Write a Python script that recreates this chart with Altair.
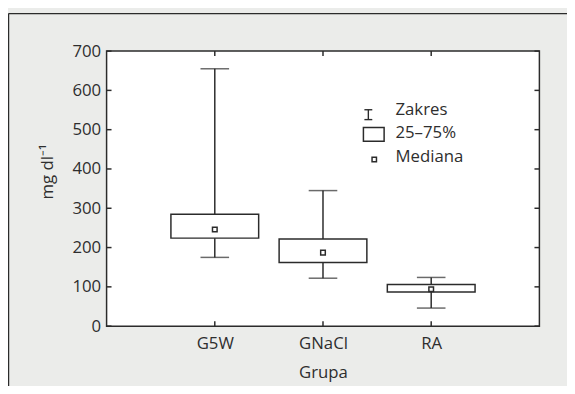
import altair as alt
import pandas as pd

# ---- data ----
groups = ["G5W", "GNaCl", "RA"]
v_min = [175, 122, 46]
v_max = [655, 345, 124]
v_q1 = [224, 162, 87]
v_q3 = [285, 222, 106]
v_median = [246, 187, 94]
y_ticks = [0, 100, 200, 300, 400, 500, 600, 700]
legend_labels = ["Zakres", "25–75%", "Mediana"]
y_title = "mg dl⁻¹"
x_title = "Grupa"

df = pd.DataFrame({"grupa": groups, "min": v_min, "max": v_max,
                   "q1": v_q1, "q3": v_q3, "median": v_median})
tick_df = pd.DataFrame({"v": y_ticks})

W, H = 439, 279
INK = "#2b2b2b"
TXT = "#2e2e2e"
FONT = "Open Sans"
FS = 17

xs = alt.Scale(type="point", domain=groups, padding=1)
ys = alt.Scale(domain=[0, 700], nice=False, zero=True)

xaxis = alt.Axis(title=x_title, domain=False, ticks=False, labelAngle=0,
                 labelPadding=10, titlePadding=13, labelFontSize=FS,
                 titleFontSize=FS, labelColor=TXT, titleColor=TXT,
                 labelFont=FONT, titleFont=FONT, titleFontWeight="normal",
                 labelOverlap=False, grid=False)
yaxis = alt.Axis(title=y_title, domain=False, ticks=False, values=y_ticks,
                 labelPadding=6, titlePadding=16, labelFontSize=FS, titleFontSize=FS,
                 labelColor=TXT, titleColor=TXT, labelFont=FONT, titleFont=FONT,
                 titleFontWeight="normal", labelOverlap=False, grid=False,
                 titleY=122)


def X():
    return alt.X("grupa:N", scale=xs, sort=groups, axis=xaxis)


def Y(field):
    return alt.Y(field, scale=ys, axis=yaxis)


base = alt.Chart(df)

whisker = base.mark_rule(color=INK, strokeWidth=1.5).encode(
    x=X(), y=Y("min:Q"), y2="max:Q")
cap_lo = base.mark_tick(color=INK, thickness=1.5, size=29).encode(x=X(), y=Y("min:Q"))
cap_hi = base.mark_tick(color=INK, thickness=1.5, size=29).encode(x=X(), y=Y("max:Q"))
box = base.mark_bar(fill="white", stroke=INK, strokeWidth=1.5, size=89).encode(
    x=X(), y=Y("q1:Q"), y2="q3:Q")
med = base.mark_square(fill="white", stroke=INK, strokeWidth=1.5, size=22, opacity=1).encode(
    x=X(), y=Y("median:Q"))

# inside ticks
tk = alt.Chart(tick_df)
t_left = tk.mark_rule(color=INK, strokeWidth=1.5).encode(
    y=Y("v:Q"), x=alt.value(0), x2=alt.value(5))
t_right = tk.mark_rule(color=INK, strokeWidth=1.5).encode(
    y=Y("v:Q"), x=alt.value(W - 5), x2=alt.value(W))
t_bot = base.mark_rule(color=INK, strokeWidth=1.5).encode(
    x=X(), y=alt.value(H - 5), y2=alt.value(H))
t_top = base.mark_rule(color=INK, strokeWidth=1.5).encode(
    x=X(), y=alt.value(0), y2=alt.value(5))

# legend (drawn)
one = alt.Data(values=[{"k": 1}])
lg_x = 265.5
lg_stem = alt.Chart(one).mark_rule(color=INK, strokeWidth=1.4).encode(
    x=alt.value(lg_x), y=alt.value(59.5), y2=alt.value(69.5))
lg_c1 = alt.Chart(one).mark_rule(color=INK, strokeWidth=1.4).encode(
    x=alt.value(lg_x - 4), x2=alt.value(lg_x + 4), y=alt.value(59.5))
lg_c2 = alt.Chart(one).mark_rule(color=INK, strokeWidth=1.4).encode(
    x=alt.value(lg_x - 4), x2=alt.value(lg_x + 4), y=alt.value(69.5))
lg_box = alt.Chart(one).mark_rect(fill="white", stroke=INK, strokeWidth=1.5).encode(
    x=alt.value(260.5), x2=alt.value(281.5), y=alt.value(77.5), y2=alt.value(91.5))
lg_med = alt.Chart(one).mark_square(fill="white", stroke=INK, strokeWidth=1.5, size=20, opacity=1).encode(
    x=alt.value(271.5), y=alt.value(110))
lg_txt = [
    alt.Chart(one).mark_text(align="left", baseline="middle", font=FONT, fontSize=FS,
                             color=TXT).encode(x=alt.value(293), y=alt.value(yy), text=alt.value(lab))
    for lab, yy in zip(legend_labels, [59.5, 83.5, 107.5])
]

# outer frame (top and left edges)
fr_top = alt.Chart(one).mark_rule(color=INK, strokeWidth=1.5).encode(
    x=alt.value(-99.5), x2=alt.value(W + 40), y=alt.value(-38))
fr_left = alt.Chart(one).mark_rule(color=INK, strokeWidth=1.5).encode(
    x=alt.value(-99.5), y=alt.value(-38), y2=alt.value(H + 80))

chart = alt.layer(
    whisker, cap_lo, cap_hi, box, med, t_left, t_right, t_bot, t_top,
    lg_stem, lg_c1, lg_c2, lg_box, lg_med, *lg_txt, fr_top, fr_left
).properties(
    width=W, height=H,
    autosize=alt.AutoSizeParams(type="none"),
    padding={"left": 100, "top": 41, "right": 28, "bottom": 58},
    background="#ebecea",
).configure_view(
    fill="white", stroke=INK, strokeWidth=1.5
)

chart.save("out.html", embed_options={"renderer": "svg", "actions": False})
